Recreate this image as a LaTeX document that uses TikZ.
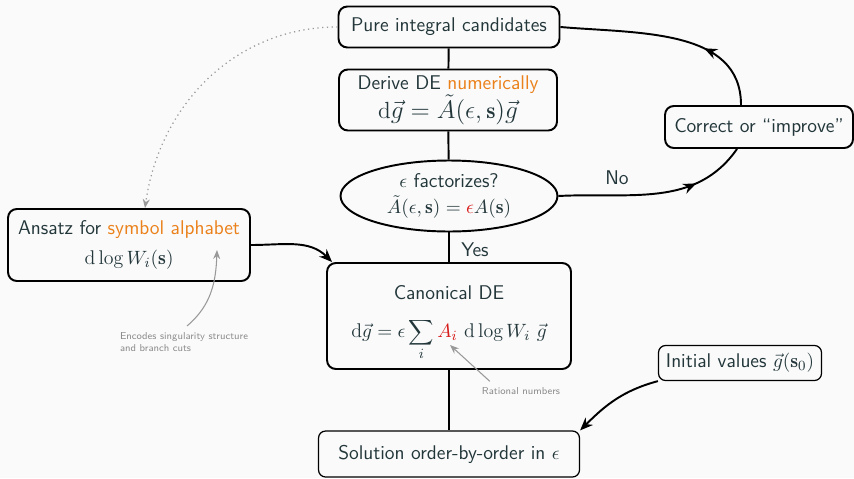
\documentclass[tikz,border=0pt]{standalone}
\usepackage{fontspec}
\usetikzlibrary{shapes.geometric,arrows.meta,decorations.markings}
\definecolor{fgtext}{HTML}{23373B}
\definecolor{bgpage}{HTML}{FAFAFA}
\definecolor{accent}{HTML}{EB811B}
\definecolor{hilite}{HTML}{D81B1B}
\newcommand\largemath[1]{{\fontsize{13.3}{15.5}\selectfont$#1$}}
\begin{document}
\begin{tikzpicture}[x=0.02cm,y=0.02cm,
  font=\sffamily\fontsize{11.3}{13.5}\selectfont, text=fgtext,
  box/.style={draw, line width=1.1pt, rounded corners=5pt, align=center, inner sep=2pt},
  thinbox/.style={draw, line width=0.7pt, rounded corners=4pt, align=center, inner sep=2pt},
  link/.style={line width=1.1pt},
  tip/.style={-{Stealth[length=2.6mm,width=2.1mm]}},
  midarrow/.style={postaction={decorate},decoration={markings,
    mark=at position #1 with {\arrow{Stealth[length=2.6mm,width=2.1mm]}}}},
  note/.style={text=black!45, font=\sffamily\fontsize{5.7}{7.2}\selectfont, align=left},
  notearrow/.style={draw=black!40, line width=0.6pt, -{Stealth[length=1.8mm,width=1.4mm]}}]
\fill[bgpage] (0,0) rectangle (854,478);
\useasboundingbox (0,0) rectangle (854,478);
\node[box, minimum width=4.42cm, minimum height=0.82cm] (pure) at (449,451) {Pure integral candidates};
\node[box, minimum width=4.36cm, minimum height=1.22cm] (derive) at (448,378)
  {Derive DE \textcolor{accent}{numerically}\\ \largemath{\mathrm{d}\vec g = \tilde A(\epsilon,\mathbf{s})\vec g}};
\node[draw, ellipse, line width=1.1pt, align=center, inner sep=0pt, minimum width=4.34cm, minimum height=1.42cm] (fact) at (449,282)
  {$\epsilon$ factorizes?\\[1pt] $\tilde A(\epsilon,\mathbf{s}) = \textcolor{hilite}{\epsilon} A(\mathbf{s})$};
\node[box, minimum width=4.88cm, minimum height=2.12cm] (canon) at (449,162)
  {\rule{0pt}{16pt}Canonical DE\\[8pt] $\displaystyle \mathrm{d}\vec g = \epsilon \sum_i \textcolor{hilite}{A_i}\ \mathrm{d}\log W_i\ \vec g$};
\node[thinbox, minimum width=5.22cm, minimum height=0.92cm] (sol) at (449,24) {Solution order-by-order in $\epsilon$};
\node[box, minimum width=4.84cm, minimum height=1.44cm] (ansatz) at (129,233)
  {Ansatz for \textcolor{accent}{symbol alphabet}\\[4pt] $\mathrm{d}\log W_i(\mathbf{s})$};
\node[box, minimum width=3.76cm, minimum height=0.84cm] (correct) at (759,351) {Correct or ``improve''};
\node[thinbox, minimum width=3.26cm, minimum height=0.70cm] (init) at (740,115) {Initial values $\vec g(\mathbf{s}_0)$};
\node (yes) at (475,228) {Yes};
\node (no) at (617,300) {No};
\node[note] (enc) at (184,136) {Encodes singularity structure\\and branch cuts};
\node[note] (rat) at (521,87) {Rational numbers};
\coordinate (encTip) at (217,228);
\coordinate (ratTip) at (450,133);
\draw[link] (pure) -- (derive);
\draw[link] (derive) -- (fact);
\draw[link] (fact) -- (canon);
\draw[link] (canon) -- (sol);
\draw[link, midarrow=0.72] (fact.east) to[out=3, in=-125] ([xshift=-0.44cm]correct.south);
\draw[link, midarrow=0.33] ([xshift=-0.36cm]correct.north) to[out=90, in=-5] (pure.east);
\draw[link, tip] (ansatz.east) to[out=0, in=135] ([xshift=0.12cm]canon.north west);
\draw[link, tip] (init.south west) to[out=195, in=45] (sol.north east);
\draw[black!40, line width=0.7pt, dotted, -{Stealth[length=1.8mm,width=1.4mm]}] (pure.west) to[out=180, in=82] ([xshift=0.32cm]ansatz.north);
\draw[notearrow] ([xshift=0.06cm]enc.north) to[out=40, in=-92] (encTip);
\draw[notearrow] ([xshift=0.28cm]rat.north west) -- (ratTip);
\end{tikzpicture}
\end{document}
